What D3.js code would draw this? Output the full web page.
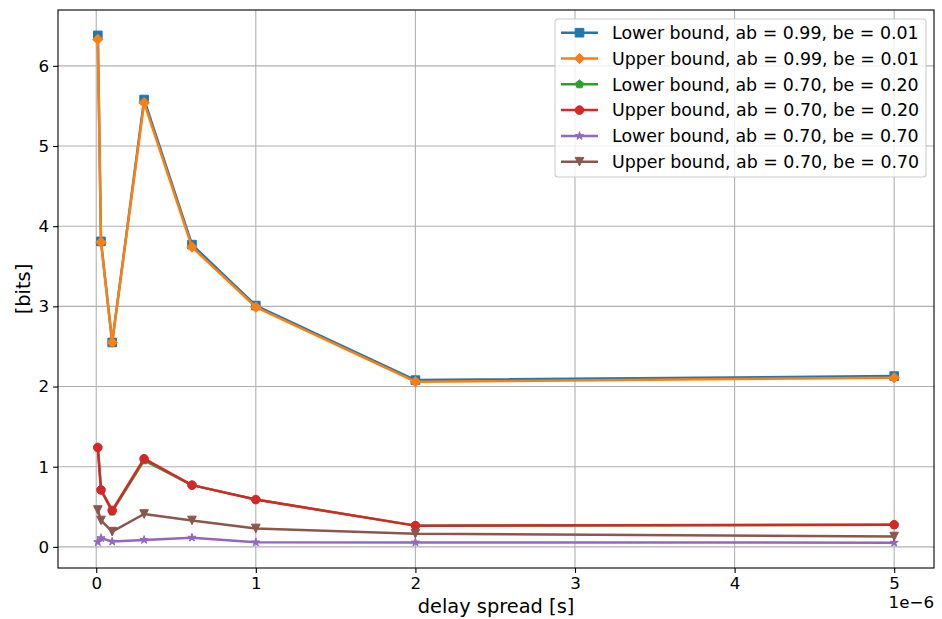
<!DOCTYPE html>
<html>
<head>
<meta charset="utf-8">
<script src="https://cdn.jsdelivr.net/npm/d3@7"></script>
<style>
  body { margin: 0; background: #fff; }
  text { font-family: "DejaVu Sans", sans-serif; fill: #000; }
</style>
</head>
<body>
<div id="canvas"></div>
<script>
// ---- ---- DATA ---- ----
var delaySpread = [0.01e-6, 0.03e-6, 0.1e-6, 0.3e-6, 0.6e-6, 1e-6, 2e-6, 5e-6];

var lower099_001 = [6.38, 3.81, 2.55, 5.58, 3.77, 3.01, 2.08, 2.13];
var upper099_001 = [6.33, 3.80, 2.55, 5.54, 3.74, 2.99, 2.06, 2.11];
var lower070_020 = [1.24, 0.71, 0.44, 1.08, 0.77, 0.59, 0.265, 0.275];
var upper070_020 = [1.24, 0.71, 0.455, 1.10, 0.77, 0.59, 0.265, 0.277];
var lower070_070 = [0.06, 0.11, 0.066, 0.087, 0.115, 0.057, 0.056, 0.053];
var upper070_070 = [0.46, 0.33, 0.19, 0.41, 0.33, 0.23, 0.165, 0.13];

var seriesNames = [
  'Lower bound, ab = 0.99, be = 0.01',
  'Upper bound, ab = 0.99, be = 0.01',
  'Lower bound, ab = 0.70, be = 0.20',
  'Upper bound, ab = 0.70, be = 0.20',
  'Lower bound, ab = 0.70, be = 0.70',
  'Upper bound, ab = 0.70, be = 0.70'
];
var seriesValues = [lower099_001, upper099_001, lower070_020, upper070_020, lower070_070, upper070_070];
var colors = ['#1f77b4', '#ff7f0e', '#2ca02c', '#d62728', '#9467bd', '#8c564b'];
var markers = ['square', 'diamond', 'pentagon', 'circle', 'star', 'triangleDown'];

var xTicks = [0, 1e-6, 2e-6, 3e-6, 4e-6, 5e-6];
var xTickLabels = ['0', '1', '2', '3', '4', '5'];
var yTicks = [0, 1, 2, 3, 4, 5, 6];

// ---- ---- MARGIN CONVENTION ---- ----
var outerWidth = 942, outerHeight = 619;
var m = {t: 10, r: 8, b: 51, l: 58};
var w = outerWidth - m.l - m.r,
    h = outerHeight - m.t - m.b;
var fs = 16.7,      // tick labels
    fsLeg = 17.4,   // legend
    fsLab = 19.4;   // axis labels

var svg = d3.select('#canvas')
  .append('svg')
  .attr('width', outerWidth)
  .attr('height', outerHeight);

var plot = svg.append('g')
  .attr('transform', 'translate(' + m.l + ',' + m.t + ')');

// ---- ---- SCALES (matplotlib-style 5% margins) ---- ----
var xExt = d3.extent(delaySpread);
var xPad = (xExt[1] - xExt[0]) * 0.05;
var allY = d3.merge(seriesValues);
var yExt = d3.extent(allY);
var yPad = (yExt[1] - yExt[0]) * 0.05;

var scaleX = d3.scaleLinear()
  .domain([xExt[0] - xPad, xExt[1] + xPad])
  .range([0, w]);
var scaleY = d3.scaleLinear()
  .domain([yExt[0] - yPad, yExt[1] + yPad])
  .range([h, 0]);

// ---- ---- GRID ---- ----
plot.append('g').selectAll('line')
  .data(xTicks).enter().append('line')
  .attr('x1', function(d){ return scaleX(d); })
  .attr('x2', function(d){ return scaleX(d); })
  .attr('y1', 0).attr('y2', h)
  .attr('stroke', '#b0b0b0').attr('stroke-width', 1.1);
plot.append('g').selectAll('line')
  .data(yTicks).enter().append('line')
  .attr('y1', function(d){ return scaleY(d); })
  .attr('y2', function(d){ return scaleY(d); })
  .attr('x1', 0).attr('x2', w)
  .attr('stroke', '#b0b0b0').attr('stroke-width', 1.1);

// ---- ---- AXES ---- ----
var axisX = d3.axisBottom(scaleX)
  .tickValues(xTicks)
  .tickFormat(function(d, i){ return xTickLabels[i]; })
  .tickSizeOuter(0).tickSizeInner(4.9).tickPadding(4);
var axisY = d3.axisLeft(scaleY)
  .tickValues(yTicks)
  .tickFormat(d3.format('d'))
  .tickSizeOuter(0).tickSizeInner(4.9).tickPadding(4);

var gx = plot.append('g')
  .attr('transform', 'translate(0,' + h + ')')
  .call(axisX);
var gy = plot.append('g').call(axisY);
[gx, gy].forEach(function(g){
  g.select('.domain').remove();
  g.selectAll('.tick line').attr('stroke', '#000').attr('stroke-width', 1.1);
  g.selectAll('.tick text')
    .style('font-family', '"DejaVu Sans", sans-serif')
    .style('font-size', fs + 'px')
    .attr('fill', '#000');
});

// ---- ---- MARKER SHAPES ---- ----
var ms = 8.6;
function markerPath(type) {
  var r = ms / 2, p = d3.path(), i, a;
  if (type === 'square') {
    p.rect(-r, -r, ms, ms);
  } else if (type === 'diamond') {
    var d = r * Math.SQRT2 * 0.85;
    p.moveTo(0, -d); p.lineTo(d, 0); p.lineTo(0, d); p.lineTo(-d, 0); p.closePath();
  } else if (type === 'pentagon') {
    for (i = 0; i < 5; i++) {
      a = -Math.PI / 2 + i * 2 * Math.PI / 5;
      if (i === 0) p.moveTo(r * Math.cos(a), r * Math.sin(a));
      else p.lineTo(r * Math.cos(a), r * Math.sin(a));
    }
    p.closePath();
  } else if (type === 'circle') {
    p.arc(0, 0, r, 0, 2 * Math.PI);
  } else if (type === 'star') {
    var ri = r * 0.381966;
    for (i = 0; i < 10; i++) {
      a = -Math.PI / 2 + i * Math.PI / 5;
      var rr = i % 2 === 0 ? r : ri;
      if (i === 0) p.moveTo(rr * Math.cos(a), rr * Math.sin(a));
      else p.lineTo(rr * Math.cos(a), rr * Math.sin(a));
    }
    p.closePath();
  } else if (type === 'triangleDown') {
    p.moveTo(0, r); p.lineTo(-r, -r); p.lineTo(r, -r); p.closePath();
  }
  return p.toString();
}

// ---- ---- LINES + MARKERS ---- ----
var line = d3.line()
  .x(function(d){ return scaleX(d[0]); })
  .y(function(d){ return scaleY(d[1]); });

var lw = 2.5;
seriesValues.forEach(function(vals, si){
  var pts = delaySpread.map(function(x, i){ return [x, vals[i]]; });
  var g = plot.append('g');
  g.append('path')
    .datum(pts)
    .attr('d', line)
    .attr('fill', 'none')
    .attr('stroke', colors[si])
    .attr('stroke-width', lw)
    .attr('stroke-linejoin', 'round');
  g.selectAll('path.mk')
    .data(pts).enter().append('path')
    .attr('class', 'mk')
    .attr('d', markerPath(markers[si]))
    .attr('transform', function(d){ return 'translate(' + scaleX(d[0]) + ',' + scaleY(d[1]) + ')'; })
    .attr('fill', colors[si])
    .attr('stroke', colors[si])
    .attr('stroke-width', 1);
});

// ---- ---- FRAME ---- ----
plot.append('rect')
  .attr('x', 0).attr('y', 0).attr('width', w).attr('height', h)
  .attr('fill', 'none').attr('stroke', '#000').attr('stroke-width', 1.1);

// ---- ---- LABELS ---- ----
svg.append('text')
  .attr('x', m.l + w / 2).attr('y', 613)
  .attr('text-anchor', 'middle')
  .style('font-size', fsLab + 'px')
  .text('delay spread [s]');

svg.append('text')
  .attr('transform', 'translate(30,' + (m.t + h / 2) + ') rotate(-90)')
  .attr('text-anchor', 'middle')
  .style('font-size', fsLab + 'px')
  .text('[bits]');

svg.append('text')
  .attr('x', m.l + w).attr('y', 608)
  .attr('text-anchor', 'end')
  .style('font-size', fs + 'px')
  .text('1e\u22126');

// ---- ---- LEGEND ---- ----
var legX = 555, legY = 19, legW = 371, legH = 158, rowH = 25.8;
var legend = svg.append('g');
legend.append('rect')
  .attr('x', legX).attr('y', legY).attr('width', legW).attr('height', legH)
  .attr('rx', 3).attr('ry', 3)
  .attr('fill', '#fff').attr('fill-opacity', 0.8)
  .attr('stroke', '#cccccc').attr('stroke-width', 1.1);

seriesNames.forEach(function(name, i){
  var cy = 32.7 + i * rowH;
  legend.append('line')
    .attr('x1', 561).attr('x2', 598)
    .attr('y1', cy).attr('y2', cy)
    .attr('stroke', colors[i]).attr('stroke-width', lw);
  legend.append('path')
    .attr('d', markerPath(markers[i]))
    .attr('transform', 'translate(579.5,' + cy + ')')
    .attr('fill', colors[i]).attr('stroke', colors[i]).attr('stroke-width', 1);
  legend.append('text')
    .attr('x', 612).attr('y', cy + 6.3)
    .style('font-size', fsLeg + 'px')
    .text(name);
});
</script>
</body>
</html>
